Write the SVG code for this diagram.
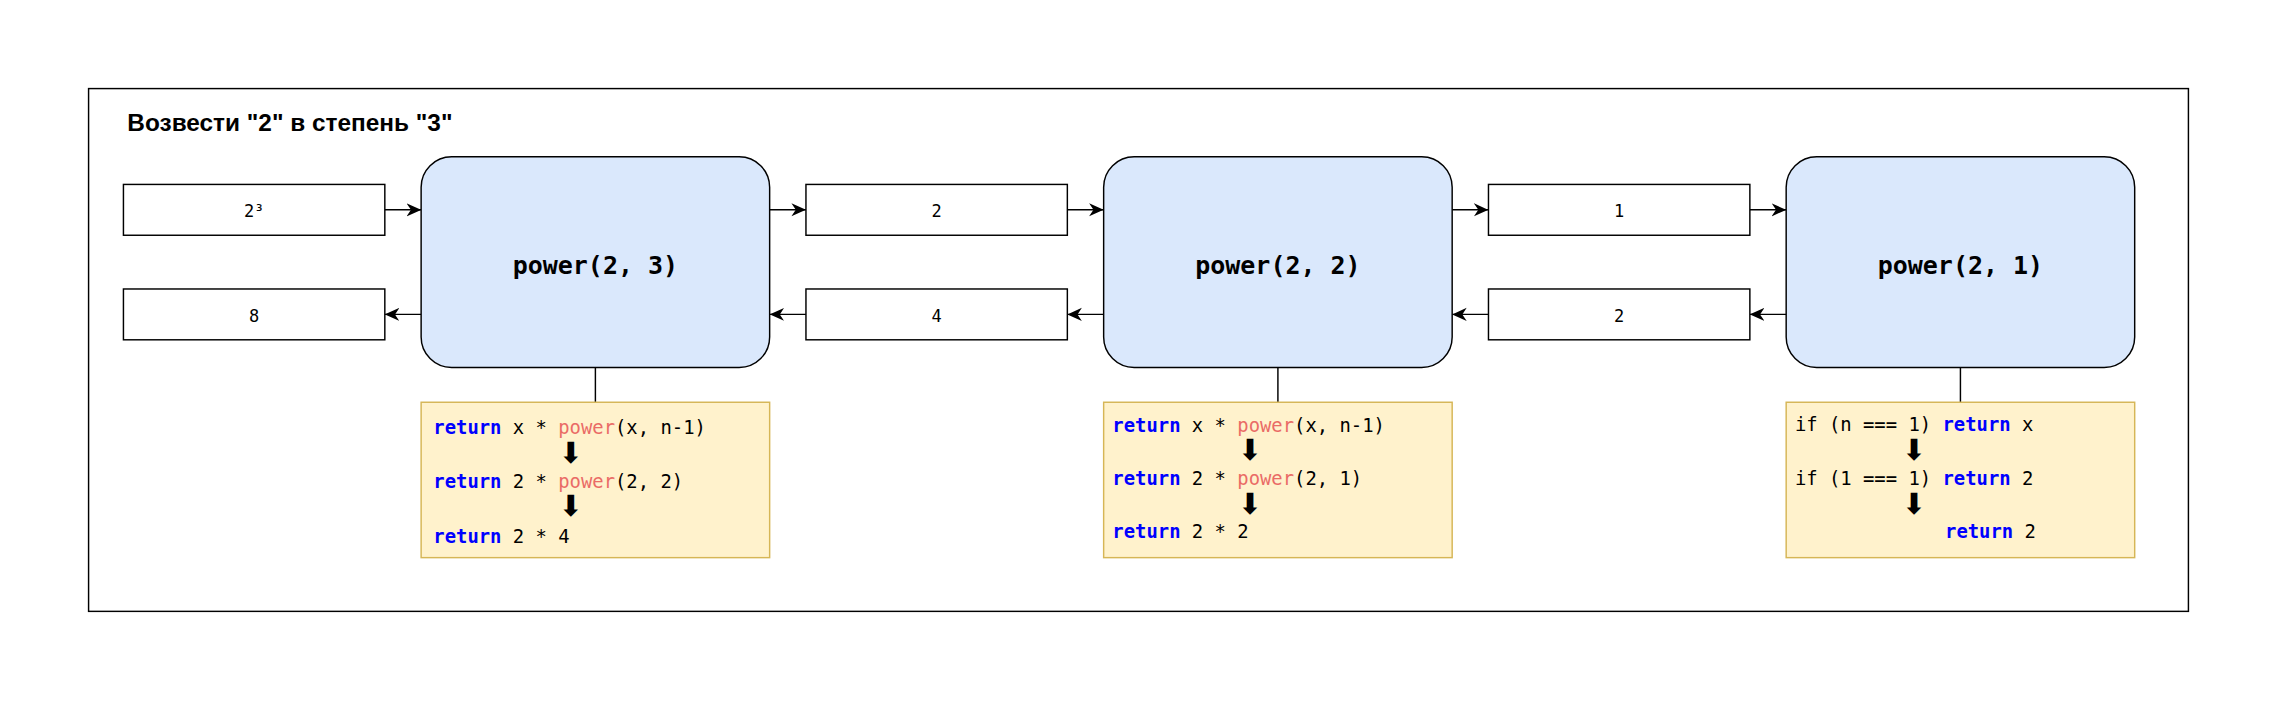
<svg xmlns="http://www.w3.org/2000/svg" width="2277" height="702" viewBox="0 0 2277 702">
<defs>
<style>
.frame{fill:#ffffff;stroke:#000000;stroke-width:1}
.val{fill:#ffffff;stroke:#000000;stroke-width:1}
.fn{fill:#dae8fc;stroke:#000000;stroke-width:1}
.code{fill:#fff2cc;stroke:#d6b656;stroke-width:1}
.title{font-family:"Liberation Sans",Arial,sans-serif;font-weight:bold;font-size:16.8px;fill:#000000}
.vt{font-family:"DejaVu Sans Mono","Liberation Mono",monospace;font-size:11.7px;fill:#000000;text-anchor:middle}
.ft{font-family:"DejaVu Sans Mono","Liberation Mono",monospace;font-weight:bold;font-size:17.2px;fill:#000000;text-anchor:middle}
.ct{font-family:"DejaVu Sans Mono","Liberation Mono",monospace;font-size:13px;fill:#000000;white-space:pre}
.kw{fill:#0000ff;font-weight:bold}
.pw{fill:#ea6b66}
.ar{font-family:"DejaVu Sans",sans-serif;font-size:20px;fill:#000000;text-anchor:middle}
.edge{fill:none;stroke:#000000;stroke-width:1}
</style>
<marker id="arr" viewBox="0 0 10 10" refX="10" refY="5" markerWidth="10" markerHeight="10" markerUnits="userSpaceOnUse" orient="auto">
<path d="M0,0.5 L10,5 L0,9.5 L3,5 Z" fill="#000000"/>
</marker>
</defs>
<rect x="0" y="0" width="2277" height="702" fill="#ffffff"/>
<g transform="scale(1.45217)">
<rect class="frame" x="61" y="61" width="1446" height="360"/>
<text id="title" class="title" x="87.7" y="90">Возвести "2" в степень "3"</text>

<g id="connectors">
<line class="edge" x1="265" y1="144.5" x2="290" y2="144.5" marker-end="url(#arr)"/>
<line class="edge" x1="530" y1="144.5" x2="555" y2="144.5" marker-end="url(#arr)"/>
<line class="edge" x1="735" y1="144.5" x2="760" y2="144.5" marker-end="url(#arr)"/>
<line class="edge" x1="1000" y1="144.5" x2="1025" y2="144.5" marker-end="url(#arr)"/>
<line class="edge" x1="1205" y1="144.5" x2="1230" y2="144.5" marker-end="url(#arr)"/>
<line class="edge" x1="290" y1="216.5" x2="265" y2="216.5" marker-end="url(#arr)"/>
<line class="edge" x1="555" y1="216.5" x2="530" y2="216.5" marker-end="url(#arr)"/>
<line class="edge" x1="760" y1="216.5" x2="735" y2="216.5" marker-end="url(#arr)"/>
<line class="edge" x1="1025" y1="216.5" x2="1000" y2="216.5" marker-end="url(#arr)"/>
<line class="edge" x1="1230" y1="216.5" x2="1205" y2="216.5" marker-end="url(#arr)"/>
<line class="edge" x1="410" y1="253" x2="410" y2="277"/>
<line class="edge" x1="880" y1="253" x2="880" y2="277"/>
<line class="edge" x1="1350" y1="253" x2="1350" y2="277"/>
</g>

<g id="in-2-3">
<rect class="val" x="85" y="127" width="180" height="35"/>
<text class="vt" x="175" y="149.7">2³</text>
</g>
<g id="out-8">
<rect class="val" x="85" y="199" width="180" height="35"/>
<text class="vt" x="175" y="221.5">8</text>
</g>
<g id="power-2-3">
<rect class="fn" x="290" y="108" width="240" height="145" rx="21" ry="21"/>
<text class="ft" x="410" y="188.7">power(2, 3)</text>
</g>
<g id="in-2">
<rect class="val" x="555" y="127" width="180" height="35"/>
<text class="vt" x="645" y="149.7">2</text>
</g>
<g id="out-4">
<rect class="val" x="555" y="199" width="180" height="35"/>
<text class="vt" x="645" y="221.5">4</text>
</g>
<g id="power-2-2">
<rect class="fn" x="760" y="108" width="240" height="145" rx="21" ry="21"/>
<text class="ft" x="880" y="188.7">power(2, 2)</text>
</g>
<g id="in-1">
<rect class="val" x="1025" y="127" width="180" height="35"/>
<text class="vt" x="1115" y="149.7">1</text>
</g>
<g id="out-2">
<rect class="val" x="1025" y="199" width="180" height="35"/>
<text class="vt" x="1115" y="221.5">2</text>
</g>
<g id="power-2-1">
<rect class="fn" x="1230" y="108" width="240" height="145" rx="21" ry="21"/>
<text class="ft" x="1350" y="188.7">power(2, 1)</text>
</g>

<g id="code-1">
<rect class="code" x="290" y="277" width="240" height="107"/>
<text class="ct" x="298.4" y="299"><tspan class="kw">return</tspan> x * <tspan class="pw">power</tspan>(x, n-1)</text>
<text class="ar" x="393" y="318.5">⬇</text>
<text class="ct" x="298.4" y="336.3"><tspan class="kw">return</tspan> 2 * <tspan class="pw">power</tspan>(2, 2)</text>
<text class="ar" x="393" y="355.5">⬇</text>
<text class="ct" x="298.4" y="373.7"><tspan class="kw">return</tspan> 2 * 4</text>
</g>
<g id="code-2">
<rect class="code" x="760" y="277" width="240" height="107"/>
<text class="ct" x="766" y="297.3"><tspan class="kw">return</tspan> x * <tspan class="pw">power</tspan>(x, n-1)</text>
<text class="ar" x="860.8" y="316.8">⬇</text>
<text class="ct" x="766" y="334"><tspan class="kw">return</tspan> 2 * <tspan class="pw">power</tspan>(2, 1)</text>
<text class="ar" x="860.8" y="354">⬇</text>
<text class="ct" x="766" y="370.7"><tspan class="kw">return</tspan> 2 * 2</text>
</g>
<g id="code-3">
<rect class="code" x="1230" y="277" width="240" height="107"/>
<text class="ct" x="1236" y="296.8">if (n === 1) <tspan class="kw">return</tspan> x</text>
<text class="ar" x="1318" y="316.8">⬇</text>
<text class="ct" x="1236" y="334">if (1 === 1) <tspan class="kw">return</tspan> 2</text>
<text class="ar" x="1318" y="354">⬇</text>
<text class="ct" x="1339.4" y="370.7"><tspan class="kw">return</tspan> 2</text>
</g>
</g>
</svg>
